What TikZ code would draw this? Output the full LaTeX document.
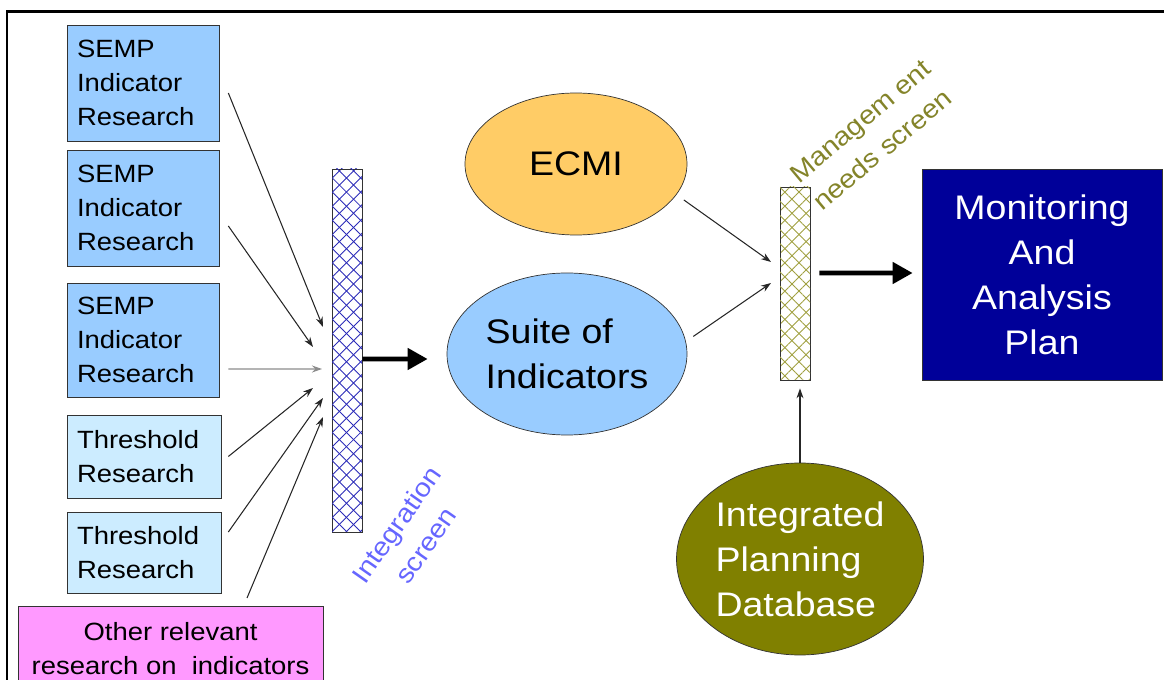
\documentclass[tikz,border=0pt]{standalone}
\usepackage{fontspec}
\setmainfont{Liberation Sans}[FakeStretch=1.1]
\usetikzlibrary{shapes.geometric,patterns.meta,arrows.meta}
\definecolor{semp}{HTML}{99CCFF}
\definecolor{thresh}{HTML}{CCECFF}
\definecolor{other}{HTML}{FF99FF}
\definecolor{ecmi}{HTML}{FFCC66}
\definecolor{ipd}{HTML}{808000}
\definecolor{plan}{HTML}{000099}
\definecolor{ihatch}{HTML}{2B2BB8}
\definecolor{mhatch}{HTML}{A0A040}
\definecolor{ilabel}{HTML}{6666FF}
\definecolor{mlabel}{HTML}{84842A}
\newcommand{\boxfont}{\fontsize{14.2}{19.4}\selectfont}
\newcommand{\bigfont}{\fontsize{19.4}{25.6}\selectfont}
\newcommand{\labfont}{\fontsize{14.8}{20.5}\selectfont}
\begin{document}
\begin{tikzpicture}[
  res/.style={draw=black!80,fill=semp,font=\boxfont,align=left,inner xsep=0.2cm,text width=2.64cm,minimum height=2.32cm},
  thr/.style={res,fill=thresh,text width=2.68cm},
  oval/.style={ellipse,draw=black!80,inner sep=0pt,font=\bigfont,align=left},
  hatch/.style={draw=black!80,minimum width=0.6cm,inner sep=0pt,
    pattern={Lines[angle=45,distance=0.2cm,line width=0.5pt]},pattern color=#1,
    postaction={pattern={Lines[angle=-45,distance=0.2cm,line width=0.5pt]},pattern color=#1}},
  thin/.style={draw=black!85,line width=0.6pt,-{Stealth[length=0.2cm,width=0.14cm]}},
  thick/.style={line width=2.6pt,-{Triangle[length=0.4cm,width=0.42cm]}}]
\useasboundingbox (0,0) rectangle (23.28,-13.6);
\draw[line width=0.06cm] (0.14,-13.7) -- (0.14,-0.24) -- (23.4,-0.24);
\node[res] (r1) at (2.86,-1.66) {SEMP\\Indicator\\Research};
\node[res] (r2) at (2.86,-4.16) {SEMP\\Indicator\\Research};
\node[res,minimum height=2.28cm] (r3) at (2.86,-6.80) {SEMP\\Indicator\\Research};
\node[thr,minimum height=1.66cm] (r4) at (2.88,-9.13) {Threshold\\Research};
\node[thr,minimum height=1.62cm] (r5) at (2.88,-11.05) {Threshold\\Research};
\node[draw=black!80,fill=other,font=\boxfont,align=center,minimum width=6.1cm,minimum height=1.7cm,anchor=north] (r6) at (3.41,-12.12) {Other relevant\\research on\ \ indicators};
\node[hatch=ihatch,minimum height=7.26cm] (iscr) at (6.94,-7.01) {};
\node[font=\labfont,text=ilabel,align=center,rotate=55] (ilab) at (8.22,-10.7) {Integration\\screen};
\node[oval,fill=ecmi,minimum width=4.44cm,minimum height=2.84cm] (ecmi) at (11.52,-3.28) {ECMI};
\node[oval,fill=semp,minimum width=4.8cm,minimum height=3.24cm] (suite) at (11.34,-7.08) {Suite of\\Indicators};
\node[hatch=mhatch,minimum height=3.86cm] (mscr) at (15.9,-5.67) {};
\node[font=\labfont,text=mlabel,align=left,rotate=40] (mlab) at (17.44,-2.70) {Managem ent\\needs screen};
\node[oval,fill=ipd,text=white,minimum width=4.94cm,minimum height=3.84cm] (ipd) at (16.0,-11.18) {Integrated\\Planning\\Database};
\node[draw=black!80,fill=plan,text=white,font=\bigfont,align=center,minimum width=4.8cm,minimum height=4.22cm] (mon) at (20.84,-5.49) {Monitoring\\And\\Analysis\\Plan};
\coordinate (i1) at (6.46,-6.54);
\coordinate (i2) at (6.26,-6.94);
\coordinate (i3) at (6.44,-7.38);
\coordinate (i4) at (6.26,-7.76);
\coordinate (i5) at (6.46,-7.96);
\coordinate (i6) at (6.46,-8.34);
\coordinate (m1) at (15.42,-5.24);
\coordinate (m2) at (15.42,-5.66);
\draw[thin]  ([shift={(0.18,-0.2)}]r1.east) -- (i1);
\draw[thin]  ([shift={(0.18,-0.36)}]r2.east) -- (i2);
\draw[thin,draw=black!45]  ([shift={(0.18,-0.58)}]r3.east) -- (i3);
\draw[thin]  ([shift={(0.14,0)}]r4.east) -- (i4);
\draw[thin]  ([shift={(0.14,0.41)}]r5.east) -- (i5);
\draw[thin]  ([shift={(1.53,0.16)}]r6.north) -- (i6);
\draw[thick,shorten >=0.38cm]  ([yshift=-0.17cm]iscr.east) -- ([yshift=-0.1cm]suite.west);
\draw[thin,shorten <=0.18cm]  (ecmi.-17) -- (m1);
\draw[thin,shorten <=0.18cm]  (suite.6) -- (m2);
\draw[thin,shorten >=0.16cm]  (ipd.north) -- (ipd.north |- mscr.south);
\draw[thick,shorten <=0.18cm,shorten >=0.18cm]  ([yshift=0.21cm]mscr.east) -- ([yshift=0.03cm]mon.west);
\end{tikzpicture}
\end{document}
